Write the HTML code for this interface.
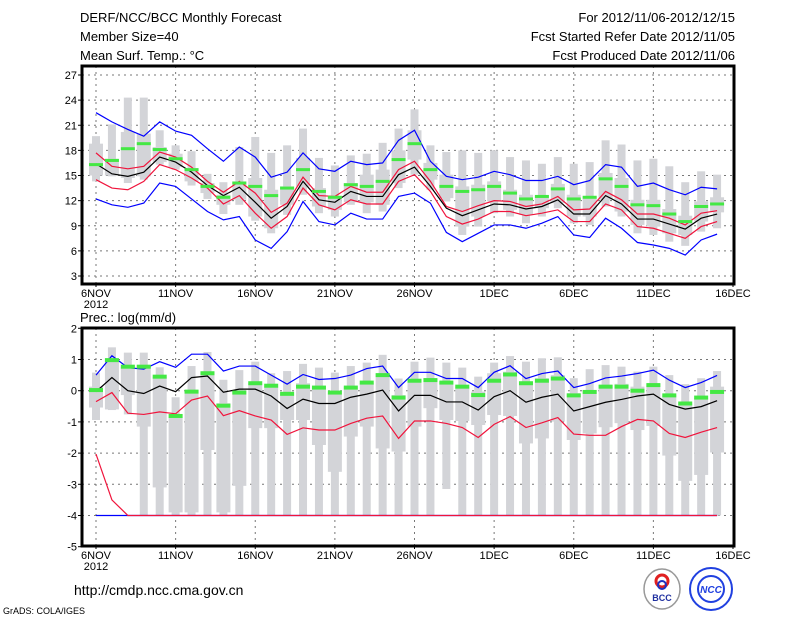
<!DOCTYPE html>
<html><head><meta charset="utf-8"><style>
body{margin:0;background:#fff;}
svg{display:block;font-family:"Liberation Sans",sans-serif;}
</style></head><body>
<svg id="chart" width="800" height="618" viewBox="0 0 800 618">
<rect width="800" height="618" fill="#fff"/>
<g font-size="13" fill="#000">
<text x="80" y="22">DERF/NCC/BCC Monthly Forecast</text>
<text x="80" y="41">Member Size=40</text>
<text x="80" y="60">Mean Surf. Temp.: °C</text>
<text x="735" y="22" text-anchor="end">For 2012/11/06-2012/12/15</text>
<text x="735" y="41" text-anchor="end">Fcst Started Refer Date 2012/11/05</text>
<text x="735" y="60" text-anchor="end">Fcst Produced Date 2012/11/06</text>
</g>
<text x="80" y="322" font-size="13">Prec.: log(mm/d)</text>
<text x="74" y="595" font-size="14">http://cmdp.ncc.cma.gov.cn</text>
<text x="3" y="614" font-size="9">GrADS: COLA/IGES</text>
<g>
<ellipse cx="662" cy="589" rx="18" ry="20" fill="#fff" stroke="#999" stroke-width="1.5"/>
<circle cx="662" cy="581" r="6" fill="none" stroke="#e02020" stroke-width="3"/>
<circle cx="662" cy="585" r="4" fill="none" stroke="#2030c0" stroke-width="2"/>
<text x="662" y="601" font-size="9" font-weight="bold" text-anchor="middle" fill="#2030a0">BCC</text>
</g>
<g>
<circle cx="711" cy="589" r="21" fill="none" stroke="#2040e0" stroke-width="2"/>
<circle cx="711" cy="589" r="13" fill="none" stroke="#2040e0" stroke-width="2"/>
<text x="711" y="593" font-size="10" font-weight="bold" font-style="italic" text-anchor="middle" fill="#2040e0">NCC</text>
</g>
<g id="top"></g>
<g id="bot"></g>
</svg>
<script>
// ---- Temperature data (deg C), days 6NOV..15DEC ----
const tMean=[16.4,15.2,14.9,15.4,17.2,16.6,15.4,13.8,12.6,13.6,11.8,9.9,11.3,14.3,12.1,11.8,13.1,12.5,12.5,15.1,16.0,13.7,11.1,10.2,10.9,11.6,11.5,11.0,11.3,12.1,10.4,10.4,12.6,11.6,9.8,9.8,9.2,8.6,9.9,10.4];
const tRedHi=[17.7,16.1,15.8,16.1,17.8,17.2,16.0,14.3,13.0,14.3,12.9,10.6,11.7,14.8,12.6,12.5,13.7,13.0,13.0,15.7,16.7,14.3,11.3,10.7,11.4,12.0,11.9,11.3,11.6,12.5,10.9,11.0,13.1,12.1,10.4,10.4,9.9,9.1,10.5,10.8];
const tRedLo=[14.5,13.5,13.3,14.3,16.3,15.7,14.7,13.5,11.6,12.6,10.5,8.7,10.1,13.5,11.5,10.9,12.1,11.6,11.6,14.3,15.1,13.1,10.1,9.2,9.8,10.7,10.7,10.2,10.5,10.9,9.5,9.5,11.6,10.9,8.9,8.7,8.1,7.5,8.9,9.5];
const tBlueHi=[22.5,21.4,20.5,19.7,21.4,20.3,19.8,18.2,16.7,18.4,17.2,14.8,15.4,17.7,15.8,15.5,16.7,16.3,16.5,19.2,20.4,16.7,14.9,14.5,14.8,15.5,15.1,14.4,14.4,14.9,13.9,14.4,16.3,16.0,13.7,14.1,13.3,12.7,13.6,13.4];
const tBlueLo=[12.2,11.5,11.2,11.7,14.1,13.7,12.2,10.7,9.7,10.1,7.3,6.3,8.3,11.9,9.5,9.1,10.5,9.8,9.8,12.5,12.9,11.7,8.2,7.1,8.1,9.1,9.1,8.7,9.3,10.1,7.9,7.6,9.9,8.7,7.0,6.7,6.3,5.5,7.3,8.0];
const tGreen=[16.3,16.8,18.2,18.8,18.1,17.0,15.7,13.7,12.4,14.1,13.7,12.6,13.5,15.7,13.1,12.4,13.9,13.7,14.3,16.9,18.8,15.7,13.7,13.1,13.3,13.7,12.9,12.2,12.5,13.4,12.2,12.4,14.6,13.7,11.5,11.4,10.4,9.5,11.3,11.6];
const tMax=[19.7,21.1,24.3,24.3,20.4,18.6,17.9,15.2,14.2,18.4,19.6,17.7,18.6,20.6,17.1,16.2,17.4,17.6,18.9,20.6,22.9,18.6,17.8,18.0,17.7,18.0,17.2,16.8,16.4,17.2,16.4,16.6,19.2,18.7,16.8,17.0,16.1,14.2,15.5,15.1];
const tMin=[14.3,14.9,14.1,14.5,16.3,15.7,13.8,12.2,10.4,11.5,9.6,8.1,10.3,12.7,10.5,10.1,11.5,10.5,10.7,13.5,15.1,13.3,11.9,7.9,8.9,10.5,10.1,9.3,10.1,11.1,9.3,9.1,11.3,10.1,8.1,7.9,7.1,6.6,8.3,8.7];
const tQ3=[18.8,17.0,20.2,20.0,18.4,17.6,15.9,14.1,12.7,14.3,14.7,13.3,13.7,17.1,13.5,12.5,14.1,15.1,15.7,18.0,20.4,16.5,15.1,13.7,13.9,14.3,13.3,12.7,12.5,14.0,12.7,12.5,15.3,14.7,12.1,12.1,11.0,10.2,11.9,12.4];
const tQ1=[15.0,15.0,14.7,14.9,16.6,16.0,14.3,12.9,11.5,12.1,10.1,8.7,11.5,13.7,11.3,10.9,11.8,11.8,11.5,14.1,16.9,14.5,12.3,8.9,10.1,11.9,10.9,10.3,11.1,11.7,10.1,10.1,12.1,10.7,9.1,8.9,8.1,7.9,9.5,10.6];
const tTicks=[3,6,9,12,15,18,21,24,27];
// ---- Precipitation data log(mm/d) ----
const pMean=[-0.03,0.42,0,-0.09,0.15,-0.03,0.42,0.47,-0.05,0.05,0.05,-0.17,-0.57,-0.27,-0.41,-0.41,-0.21,-0.11,0.02,-0.65,-0.15,-0.15,-0.36,-0.36,-0.62,-0.19,0,-0.37,-0.21,-0.11,-0.65,-0.51,-0.37,-0.28,-0.17,-0.11,-0.44,-0.59,-0.51,-0.32];
const pBlueHi=[0.5,1.12,0.74,0.69,0.93,0.75,1.17,1.17,0.63,0.79,0.79,0.5,0.21,0.52,0.36,0.39,0.5,0.71,0.79,0.1,0.59,0.59,0.39,0.39,0.1,0.59,0.8,0.39,0.55,0.63,0.1,0.23,0.41,0.47,0.55,0.66,0.34,0.1,0.26,0.49];
const pRedHi=[-0.35,-0.06,-0.72,-0.76,-0.68,-0.74,-0.3,-0.17,-0.8,-0.64,-0.81,-0.94,-1.4,-1.19,-1.26,-1.26,-1.05,-0.88,-0.81,-1.53,-0.97,-0.97,-1.05,-1.18,-1.5,-1.08,-0.83,-1.18,-1.03,-0.86,-1.39,-1.43,-1.43,-1.15,-0.92,-0.97,-1.37,-1.5,-1.33,-1.18];
const pRedLo=[-2.03,-3.5,-4,-4,-4,-4,-4,-4,-4,-4,-4,-4,-4,-4,-4,-4,-4,-4,-4,-4,-4,-4,-4,-4,-4,-4,-4,-4,-4,-4,-4,-4,-4,-4,-4,-4,-4,-4,-4,-4];
const pBlueLo=[-4,-4,-4,-4,-4,-4,-4,-4,-4,-4,-4,-4,-4,-4,-4,-4,-4,-4,-4,-4,-4,-4,-4,-4,-4,-4,-4,-4,-4,-4,-4,-4,-4,-4,-4,-4,-4,-4,-4,-4];
const pGreen=[0.02,0.98,0.77,0.77,0.45,-0.81,-0.03,0.56,-0.48,-0.06,0.24,0.16,-0.1,0.13,0.1,-0.06,0.1,0.26,0.5,-0.22,0.32,0.34,0.26,0.13,-0.14,0.32,0.52,0.24,0.32,0.39,-0.15,-0.04,0.13,0.13,0,0.18,-0.15,-0.41,-0.22,-0.04];
const pMax=[0.58,1.39,1.22,1.22,0.75,-0.21,0.79,1.24,0.35,0.66,0.93,0.56,0.63,0.86,0.74,0.58,0.79,0.9,1.15,0.39,0.93,1.06,0.9,0.74,0.45,0.9,1.11,0.93,1.04,1.07,0.4,0.69,0.82,0.77,0.61,0.77,0.5,0.21,0.4,0.63];
const pMin=[-0.94,-0.62,-0.76,-4,-4,-4,-4,-4,-4,-4,-4,-4,-4,-4,-4,-4,-4,-4,-4,-4,-4,-4,-3.15,-4,-4,-4,-4,-4,-4,-4,-4,-4,-4,-4,-4,-4,-4,-4,-4,-4];
const pQ3=[0.13,1.0,0.77,0.82,0.45,-0.85,0.02,0.61,-0.4,0.02,0.24,0.13,-0.09,0.24,0.13,-0.06,0.13,0.24,0.55,-0.14,0.34,0.4,0.29,0.13,-0.03,0.56,0.61,0.29,0.4,0.5,-0.08,0.02,0.18,0.22,0.13,0.22,-0.14,-0.4,-0.24,0.13];
const pQ1=[-0.54,-0.6,-0.14,-1.15,-3.1,-3.9,-3.9,-1.9,-3.9,-3.05,-1.2,-1.2,-0.94,-0.94,-1.74,-2.6,-1.47,-1.15,-1.85,-1.95,-1.15,-0.56,-0.94,-0.97,-1.1,-0.78,-0.81,-1.69,-1.53,-0.99,-1.58,-1.37,-1.17,-1.04,-1.26,-1.13,-2.08,-2.89,-2.7,-1.98];
const pTicks=[-5,-4,-3,-2,-1,0,1,2];
const xTickDays=[0,5,10,15,20,25,30,35,40];
const xTickLabels=["6NOV","11NOV","16NOV","21NOV","26NOV","1DEC","6DEC","11DEC","16DEC"];

const NS="http://www.w3.org/2000/svg";
function mk(parent,tag,attrs){const e=document.createElementNS(NS,tag);for(const k in attrs)e.setAttribute(k,attrs[k]);parent.appendChild(e);return e;}
const xScale=d=>96+d*15.925;

function panel(g,cfg){
  const yS=v=>cfg.y0+(v-cfg.v0)*(cfg.y1-cfg.y0)/(cfg.v1-cfg.v0);
  // grid
  cfg.ticks.forEach(t=>{
    const y=yS(t);
    const l=mk(g,'line',{x1:82,x2:734,y1:y,y2:y,stroke:'#777','stroke-dasharray':'2,4','stroke-width':1});
    
    
    const tx=mk(g,'text',{x:77,y:y+4,'font-size':11,'text-anchor':'end'});
    tx.textContent=t;
    
    
  });
  xTickDays.forEach((d,i)=>{
    const x=xScale(d);
    const l=mk(g,'line',{x1:x,x2:x,y1:cfg.top,y2:cfg.bottom,stroke:'#777','stroke-dasharray':'2,4','stroke-width':1});
    
    
    const tx=mk(g,'text',{x:x,y:cfg.bottom+13,'font-size':11,'text-anchor':'middle'});
    tx.textContent=xTickLabels[i];
    
    
  });
  const yr=mk(g,'text',{x:96,y:cfg.bottom+24,'font-size':11,'text-anchor':'middle'});
  yr.textContent='2012';
  
  
  // boxes
  for(let d=0;d<cfg.max.length;d++){
    const x=xScale(d);
    const w=mk(g,'rect',{x:x-4,y:yS(cfg.max[d]),width:8,height:yS(cfg.min[d])-yS(cfg.max[d]),fill:'#d3d4d8'});
    
    
    const b=mk(g,'rect',{x:x-7,y:yS(cfg.q3[d]),width:14,height:Math.max(1,yS(cfg.q1[d])-yS(cfg.q3[d])),fill:'#d3d4d8'});
    
    
  }
  const line=(arr,col,name)=>{
    const p=mk(g,'polyline',{points:arr.map((v,d)=>xScale(d)+','+yS(v)).join(' '),fill:'none',stroke:col,'stroke-width':1.2});
    
    
  };
  line(cfg.blueLo,'#0000ff','blue-lower-line');
  line(cfg.blueHi,'#0000ff','blue-upper-line');
  line(cfg.redLo,'#f0143c','red-lower-line');
  line(cfg.redHi,'#f0143c','red-upper-line');
  line(cfg.mean,'#000','ensemble-mean-line');
  cfg.green.forEach((v,d)=>{
    const r=mk(g,'rect',{x:xScale(d)-7,y:yS(v)-cfg.gh/2,width:14,height:cfg.gh,fill:'#44e844'});
    
    
  });
  const f=mk(g,'rect',{x:82,y:cfg.top,width:652,height:cfg.bottom-cfg.top,fill:'none',stroke:'#000','stroke-width':3});
  
  
  cfg.ticks.forEach(t=>{const y=yS(t);const l=mk(g,'line',{x1:78,x2:82,y1:y,y2:y,stroke:'#000'});
    
    });
  xTickDays.forEach(d=>{const x=xScale(d);const l=mk(g,'line',{x1:x,x2:x,y1:cfg.bottom,y2:cfg.bottom+3,stroke:'#000'});
    
    });
}
panel(document.getElementById('top'),{y0:276,y1:75,v0:3,v1:27,top:66,bottom:284,ticks:tTicks,
  mean:tMean,redHi:tRedHi,redLo:tRedLo,blueHi:tBlueHi,blueLo:tBlueLo,green:tGreen,max:tMax,min:tMin,q3:tQ3,q1:tQ1,gh:3});
panel(document.getElementById('bot'),{y0:546.7,y1:328.3,v0:-5,v1:2,top:328,bottom:546,ticks:pTicks,
  mean:pMean,redHi:pRedHi,redLo:pRedLo,blueHi:pBlueHi,blueLo:pBlueLo,green:pGreen,max:pMax,min:pMin,q3:pQ3,q1:pQ1,gh:4});
</script>
</body></html>
